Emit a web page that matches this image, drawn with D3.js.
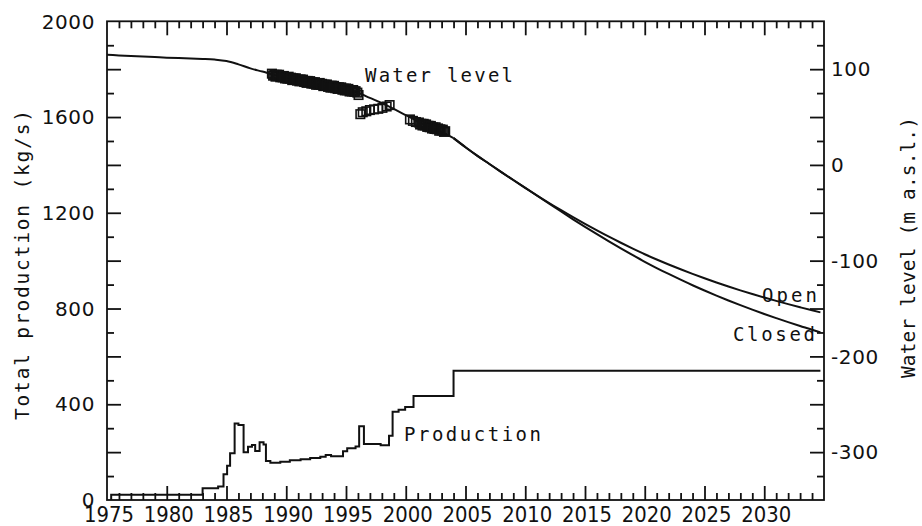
<!DOCTYPE html>
<html>
<head>
<meta charset="utf-8">
<script src="https://cdn.jsdelivr.net/npm/d3@7"></script>
<style>
  body { margin: 0; background: #fff; }
  svg { display: block; }
  .tick line { stroke: #111; stroke-width: 1.8; }
  .num { font-family: "DejaVu Sans", sans-serif; fill: #111; }
  .mono { font-family: "DejaVu Sans Mono", monospace; fill: #111; }
</style>
</head>
<body>
<svg id="chart" width="922" height="526"></svg>
<script>
// tick labels
var yearLabels  = [1975, 1980, 1985, 1990, 1995, 2000, 2005, 2010, 2015, 2020, 2025, 2030];
var prodLabels  = [0, 400, 800, 1200, 1600, 2000];
var levelLabels = [-300, -200, -100, 0, 100];

// total production (kg/s), step series
var prodYears = [1975.35, 1975.35, 1983.0, 1984.3, 1984.75, 1985.05, 1985.3, 1985.68, 1986.0, 1986.43,
                 1986.8, 1987.13, 1987.4, 1987.77, 1988.1, 1988.3, 1988.67, 1989.5, 1990.3, 1991.2,
                 1992.0, 1992.85, 1993.3, 1993.75, 1994.75, 1995.1, 1995.8, 1996.1, 1996.5, 1997.9,
                 1998.6, 1998.9, 1999.4, 1999.95, 2000.65, 2004.0, 2034.7];
var prodRate  = [0, 22, 49, 56, 108, 143, 195, 320, 313, 199,
                 223, 230, 205, 241, 232, 163, 156, 160, 166, 170,
                 175, 181, 188, 183, 204, 216, 224, 308, 234, 229,
                 268, 369, 377, 389, 434, 540, 540];

// simulated water level (m a.s.l.), history
var histYears = [1975, 1976, 1977, 1978, 1979, 1980, 1981, 1982, 1983, 1984, 1985, 1986, 1987, 1988, 1989,
                 1990, 1991, 1992, 1993, 1994, 1995, 1996, 1997, 1998, 1999, 2000, 2001, 2002, 2003, 2004];
var histLevel = [115, 114.4, 113.8, 113.2, 112.6, 112, 111.6, 111.2, 110.7, 110, 108.5, 105, 100.8, 97.5, 94,
                 91, 88.5, 86, 83.5, 81, 78.5, 75.3, 70, 64.5, 58.5, 52, 45.5, 39.8, 34.2, 28];

// predictions
var projYears = [2004, 2005, 2006, 2007, 2008, 2009, 2010, 2011, 2012, 2013, 2014, 2015, 2016, 2017, 2018, 2019,
                 2020, 2021, 2022, 2023, 2024, 2025, 2026, 2027, 2028, 2029, 2030, 2031, 2032, 2033, 2034, 2034.7];
var openLevel   = [28, 18.5, 9.5, 1, -7.5, -15.8, -24, -32, -39.8, -47.3, -54.6, -61.6, -68.4, -75, -81.3, -87.4,
                   -93.3, -98.8, -104, -109, -113.8, -118.4, -122.8, -127, -131, -134.8, -138.5, -142, -145.4, -148.7, -151.9, -154];
var closedLevel = [28, 18.5, 9.5, 1, -7.5, -15.8, -24, -32.2, -40.5, -48.7, -56.8, -64.7, -72.4, -79.9, -87.2, -94.3,
                   -101.2, -107.7, -113.9, -119.9, -125.7, -131.2, -136.5, -141.6, -146.5, -151.2, -155.7, -160, -164.2, -168.2, -172.1, -175];

// measured water level (m a.s.l.)
var obsYears = [1988.8, 1988.9, 1989.0, 1989.1, 1989.2, 1989.3, 1989.4, 1989.5, 1989.6, 1989.7,
                1989.8, 1989.9, 1990.0, 1990.1, 1990.2, 1990.3, 1990.4, 1990.5, 1990.6, 1990.7,
                1990.8, 1990.9, 1991.0, 1991.1, 1991.2, 1991.3, 1991.4, 1991.5, 1991.6, 1991.7,
                1991.8, 1991.9, 1992.0, 1992.1, 1992.2, 1992.3, 1992.4, 1992.5, 1992.6, 1992.7,
                1992.8, 1992.9, 1993.0, 1993.1, 1993.2, 1993.3, 1993.4, 1993.5, 1993.6, 1993.7,
                1993.8, 1993.9, 1994.0, 1994.1, 1994.2, 1994.3, 1994.4, 1994.5, 1994.6, 1994.7,
                1994.8, 1994.9, 1995.0, 1995.1, 1995.2, 1995.3, 1995.4, 1995.5, 1995.6, 1995.7,
                1995.8, 1995.95, 1996.05,
                1996.2, 1996.4, 1996.7, 1997.0, 1997.35, 1997.7, 1998.05, 1998.4, 1998.65,
                2000.35, 2000.6, 2000.85,
                2001.1, 2001.2, 2001.3, 2001.4, 2001.5, 2001.6, 2001.7, 2001.8, 2001.9, 2002.0,
                2002.1, 2002.2, 2002.3, 2002.4, 2002.5, 2002.6, 2002.7, 2002.8, 2002.9, 2003.0,
                2003.1, 2003.2, 2003.3];
var obsLevel = [95.3, 93.2, 94.1, 92.2, 94.2, 92.8, 94.2, 91.5, 92.8, 91.4,
                92.9, 90.3, 91.7, 90.1, 92.1, 90.1, 91.1, 88.6, 90.4, 89.2,
                90.5, 88.0, 89.0, 87.3, 89.3, 87.5, 89.1, 86.6, 87.7, 85.7,
                87.7, 86.3, 87.5, 84.9, 86.3, 84.8, 86.4, 83.7, 85.1, 83.7,
                85.6, 83.6, 84.7, 82.3, 83.9, 82.5, 84.0, 81.5, 82.5, 80.7,
                82.8, 80.9, 82.6, 80.1, 81.3, 79.4, 81.1, 79.7, 81.0, 78.5,
                79.7, 77.8, 79.8, 77.9, 79.4, 76.7, 78.1, 76.7, 78.2, 76.3,
                77.0, 75.5, 73.0,
                53, 55, 56, 57.3, 58, 58.6, 59.6, 61, 62.5,
                47.5, 46, 44.8,
                44.3, 42.2, 43.0, 41.2, 42.9, 41.2, 42.3, 39.7, 40.9, 39.3,
                40.7, 38.0, 39.2, 37.6, 39.3, 37.3, 38.1, 35.7, 37.2, 35.9,
                36.8, 34.5, 35.2];

var svg = d3.select("#chart");
var plot = { left: 107, right: 824, top: 21.3, bottom: 500 };

var x  = d3.scaleLinear().domain([1975, 2035]).range([plot.left, plot.right]);
var yP = d3.scaleLinear().domain([0, 2000]).range([plot.bottom, plot.top]);
var yW = d3.scaleLinear().domain([-350, 150]).range([plot.bottom, plot.top]);

function tickAxis(axis, values, size) {
  return axis.tickValues(values).tickSize(-size).tickFormat("");
}
function drawTicks(axis, tx, ty) {
  var g = svg.append("g").attr("transform", "translate(" + tx + "," + ty + ")").call(axis);
  g.select(".domain").remove();
  return g;
}

var minorYears = d3.range(1976, 2035).filter(function(d) { return d % 5 !== 0; });
var majorYears = d3.range(1980, 2035, 5);
drawTicks(tickAxis(d3.axisBottom(x), minorYears, 7), 0, plot.bottom);
drawTicks(tickAxis(d3.axisBottom(x), majorYears, 14), 0, plot.bottom);
drawTicks(tickAxis(d3.axisTop(x), minorYears, 7), 0, plot.top);
drawTicks(tickAxis(d3.axisTop(x), majorYears, 14), 0, plot.top);

drawTicks(tickAxis(d3.axisLeft(yP), d3.range(100, 2000, 200), 7), plot.left, 0);
drawTicks(tickAxis(d3.axisLeft(yP), d3.range(200, 2000, 200), 14), plot.left, 0);

drawTicks(tickAxis(d3.axisRight(yW), d3.range(-325, 150, 50), 7), plot.right, 0);
drawTicks(tickAxis(d3.axisRight(yW), d3.range(-300, 150, 50), 14), plot.right, 0);

// frame
svg.append("rect")
  .attr("x", plot.left).attr("y", plot.top)
  .attr("width", plot.right - plot.left).attr("height", plot.bottom - plot.top)
  .attr("fill", "none").attr("stroke", "#111").attr("stroke-width", 1.8);

// tick labels
svg.selectAll("text.xl").data(yearLabels).enter().append("text")
  .attr("class", "num xl")
  .attr("x", function(d) { return x(d) + 2; })
  .attr("y", 521.5)
  .attr("text-anchor", "middle")
  .attr("font-size", 21.5)
  .attr("textLength", 50).attr("lengthAdjust", "spacingAndGlyphs")
  .text(function(d) { return d; });

svg.selectAll("text.yl").data(prodLabels).enter().append("text")
  .attr("class", "num yl")
  .attr("x", 95)
  .attr("y", function(d) { return yP(d); })
  .attr("dy", "0.36em")
  .attr("text-anchor", "end")
  .attr("font-size", 20)
  .attr("letter-spacing", 0.6)
  .text(function(d) { return d; });

svg.selectAll("text.wl").data(levelLabels).enter().append("text")
  .attr("class", "num wl")
  .attr("x", 831)
  .attr("y", function(d) { return yW(d); })
  .attr("dy", "0.36em")
  .attr("font-size", 20)
  .attr("letter-spacing", 0.6)
  .text(function(d) { return String(d); });

// axis titles
svg.append("text")
  .attr("class", "mono")
  .attr("transform", "translate(29,265) rotate(-90)")
  .attr("text-anchor", "middle")
  .attr("font-size", 19.5)
  .attr("textLength", 310).attr("lengthAdjust", "spacing")
  .text("Total production (kg/s)");

svg.append("text")
  .attr("class", "mono")
  .attr("transform", "translate(915,247.5) rotate(-90)")
  .attr("text-anchor", "middle")
  .attr("font-size", 19.5)
  .attr("textLength", 261).attr("lengthAdjust", "spacing")
  .text("Water level (m a.s.l.)");

// production
var prodLine = d3.line()
  .x(function(d, i) { return x(prodYears[i]); })
  .y(function(d) { return yP(d); })
  .curve(d3.curveStepAfter);
svg.append("path")
  .attr("d", prodLine(prodRate))
  .attr("fill", "none").attr("stroke", "#111").attr("stroke-width", 2);

// simulated water level
function levelPath(years, levels) {
  return d3.line()
    .x(function(d, i) { return x(years[i]); })
    .y(function(d) { return yW(d); })
    .curve(d3.curveMonotoneX)(levels);
}
svg.append("path").attr("d", levelPath(histYears, histLevel))
  .attr("fill", "none").attr("stroke", "#111").attr("stroke-width", 2);
svg.append("path").attr("d", levelPath(projYears, openLevel))
  .attr("fill", "none").attr("stroke", "#111").attr("stroke-width", 2);
svg.append("path").attr("d", levelPath(projYears, closedLevel))
  .attr("fill", "none").attr("stroke", "#111").attr("stroke-width", 2);

// measured water level
var sq = 8.5;
svg.selectAll("rect.obs").data(obsLevel).enter().append("rect")
  .attr("class", "obs")
  .attr("x", function(d, i) { return x(obsYears[i]) - sq / 2; })
  .attr("y", function(d) { return yW(d) - sq / 2; })
  .attr("width", sq).attr("height", sq)
  .attr("fill", "none").attr("stroke", "#111").attr("stroke-width", 1.6);

// labels in the plot
function label(txt, lx, ly, len) {
  svg.append("text").attr("class", "mono")
    .attr("x", lx).attr("y", ly)
    .attr("font-size", 19)
    .attr("textLength", len).attr("lengthAdjust", "spacing")
    .text(txt);
}
label("Water level", 365, 81.7, 148);
label("Production", 404, 440.7, 137);
label("Open", 762, 302, 55);
label("Closed", 733, 341, 82);
</script>
</body>
</html>
